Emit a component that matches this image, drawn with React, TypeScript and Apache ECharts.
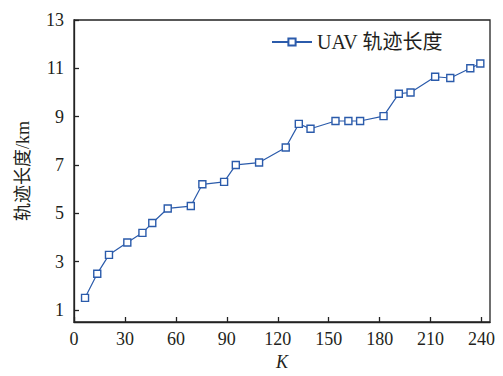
import React, { useEffect, useRef } from "react";
import * as echarts from "echarts";

const kValues = [6.5, 13.7, 20.6, 31.4, 40.3, 46.1, 55.2, 68.8, 75.6, 88.4, 95.3, 109, 124.7, 132.4, 139.3, 154, 161.6, 168.5, 182.3, 191.3, 198.2, 212.7, 221.6, 233.4, 239.3];
const lengths = [1.5, 2.5, 3.28, 3.79, 4.19, 4.6, 5.2, 5.3, 6.2, 6.3, 7.0, 7.1, 7.72, 8.7, 8.5, 8.82, 8.82, 8.82, 9.02, 9.95, 10.0, 10.65, 10.6, 11.0, 11.2];
const xTicks = [0, 30, 60, 90, 120, 150, 180, 210, 240];
const yTicks = [1, 3, 5, 7, 9, 11, 13];
const seriesName = "UAV 轨迹长度";

const FONT = '"Liberation Serif", "Noto Sans CJK SC", serif';
const TEXT = "#231f20";
const LINE = "#2b5bab";

export default function App() {
  const ref = useRef<HTMLDivElement>(null);
  useEffect(() => {
    const chart = echarts.init(ref.current!, null, { renderer: "svg" });
    chart.setOption({
      animation: false,
      backgroundColor: "#fff",
      grid: { left: 74, right: 13, top: 20, bottom: 54, show: true, borderColor: "#222", borderWidth: 1.3 },
      legend: {
        data: [seriesName],
        left: 266,
        top: 27,
        itemWidth: 40,
        itemHeight: 9,
        itemGap: 6,
        textStyle: { fontFamily: FONT, fontSize: 20, color: TEXT },
      },
      xAxis: {
        type: "value",
        min: 0,
        max: 245,
        name: "K",
        nameLocation: "middle",
        nameGap: 30,
        nameTextStyle: { fontFamily: FONT, fontSize: 18, fontStyle: "italic", color: TEXT },
        axisLine: { lineStyle: { color: "#222", width: 1.3 } },
        axisTick: { inside: true, length: 5, customValues: xTicks, lineStyle: { color: "#222", width: 1.3 } },
        axisLabel: { customValues: xTicks, fontFamily: FONT, fontSize: 18, color: TEXT, margin: 8 },
        splitLine: { show: false },
      },
      yAxis: {
        type: "value",
        min: 0.5,
        max: 13,
        name: "轨迹长度/km",
        nameLocation: "middle",
        nameGap: 42,
        nameRotate: 90,
        nameTextStyle: { fontFamily: FONT, fontSize: 18, color: TEXT },
        axisLine: { lineStyle: { color: "#222", width: 1.3 } },
        axisTick: { inside: true, length: 5, customValues: yTicks, lineStyle: { color: "#222", width: 1.3 } },
        axisLabel: { customValues: yTicks, fontFamily: FONT, fontSize: 18, color: TEXT, margin: 10 },
        splitLine: { show: false },
      },
      series: [
        {
          name: seriesName,
          type: "line",
          data: kValues.map((k, i) => [k, lengths[i]]),
          symbol: "rect",
          symbolSize: 7,
          lineStyle: { color: LINE, width: 1.2 },
          itemStyle: { color: "#fff", borderColor: LINE, borderWidth: 1.4 },
        },
      ],
    });
    return () => chart.dispose();
  }, []);
  return <div ref={ref} style={{ width: 503, height: 376, position: "absolute", left: 0, top: 0 }} />;
}
